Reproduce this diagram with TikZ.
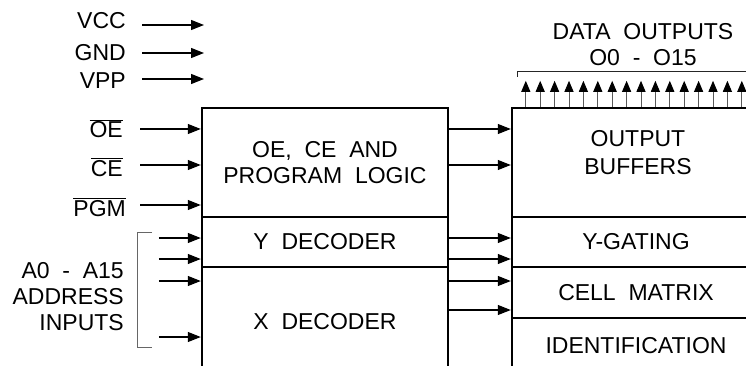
\documentclass[tikz,border=0pt]{standalone}
\usepackage{fontspec}
\setmainfont{Liberation Sans}
\usetikzlibrary{arrows.meta}

\tikzset{
  blk/.style={draw, line width=2.4pt, inner sep=0pt, font=\fontsize{23}{26}\selectfont, align=center},
  lbl/.style={inner sep=0pt, font=\fontsize{23}{26}\selectfont},
  arr/.style={line width=1.2pt, -{Triangle[length=13pt,width=10pt]}},
  uparr/.style={line width=1pt, draw=black!65, -{Triangle[length=11pt,width=9pt,color=black]}},
  brk/.style={line width=1pt, draw=black!60}
}

\begin{document}
\begin{tikzpicture}[x=1pt,y=-1pt]
	\useasboundingbox (0,0) rectangle (746,366);

	%% left block
	\node[blk, minimum width=246, minimum height=109] (logic) at (325,162.5) {OE,\ \ CE\ \ AND\\PROGRAM\ \ LOGIC};
	\node[blk, minimum width=246, minimum height=50]  (ydec)  at (325,242)   {Y\ \ DECODER};
	\node[blk, minimum width=246, minimum height=110] (xdec)  at (325,322)   {X\ \ DECODER};

	%% right block
	\node[blk, minimum width=248, minimum height=109] (outbuf) at (636,162.5) {};
	\node[blk, minimum width=248, minimum height=50]  (ygate)  at (636,242)   {Y-GATING};
	\node[blk, minimum width=248, minimum height=51]  (cellm)  at (636,292.5) {CELL\ \ MATRIX};
	\node[blk, minimum width=248, minimum height=56]  (ident)  at (636,346)   {IDENTIFICATION};
	\node[lbl, align=center, font=\fontsize{23}{28}\selectfont] (outbuf-t) at (638,153) {OUTPUT\\BUFFERS};

	%% supply pins
	\node[lbl, anchor=base east] (vcc) at (126,29) {VCC};
	\node[lbl, anchor=base east] (gnd) at (126,61) {GND};
	\node[lbl, anchor=base east] (vpp) at (126,89) {VPP};
	\coordinate (vcc-a) at (142,25);
	\coordinate (gnd-a) at (142,53);
	\coordinate (vpp-a) at (142,79);
	\foreach \p in {vcc,gnd,vpp}
		\draw[arr] (\p-a) -- ++(62,0);

	%% control pins
	\node[lbl, anchor=base east] (oe)  at (123,138) {$\overline{\mbox{OE}}$};
	\node[lbl, anchor=base east] (ce)  at (123,176) {$\overline{\mbox{CE}}$};
	\node[lbl, anchor=base east] (pgm) at (126,216) {$\overline{\mbox{PGM}}$};
	\coordinate (oe-a)  at (140,129);
	\coordinate (ce-a)  at (140,165);
	\coordinate (pgm-a) at (140,205);
	\foreach \p in {oe,ce,pgm}
		\draw[arr] (\p-a) -- (\p-a -| logic.west);

	%% address inputs
	\node[lbl, anchor=east, align=right] (addr) at (124,296.5) {A0\ \ -\ \ A15\\ADDRESS\\INPUTS};
	\draw[brk] (152,232) -- (137,232) -- (137,347) -- (152,347);
	\foreach \y in {238,259,281,337}
		\draw[arr] (xdec.west |- 0,\y) ++(-42,0) -- (xdec.west |- 0,\y);

	%% between the blocks
	\foreach \y in {129,165}
		\draw[arr] (logic.east |- 0,\y) -- (outbuf.west |- 0,\y);
	\foreach \y in {238,259,281,310}
		\draw[arr] (xdec.east |- 0,\y) -- (outbuf.west |- 0,\y);

	%% data outputs
	\node[lbl, align=center] (dout) at (643,44.5) {DATA\ \ OUTPUTS\\O0\ \ -\ \ O15};
	\draw[brk, draw=black!85] (517,77) -- (517,72) -- (760,72);
	\foreach \i in {0,...,15}
		\draw[uparr] ([xshift={15+14.4*\i}]outbuf.north west) -- ++(0,-26);
\end{tikzpicture}
\end{document}
